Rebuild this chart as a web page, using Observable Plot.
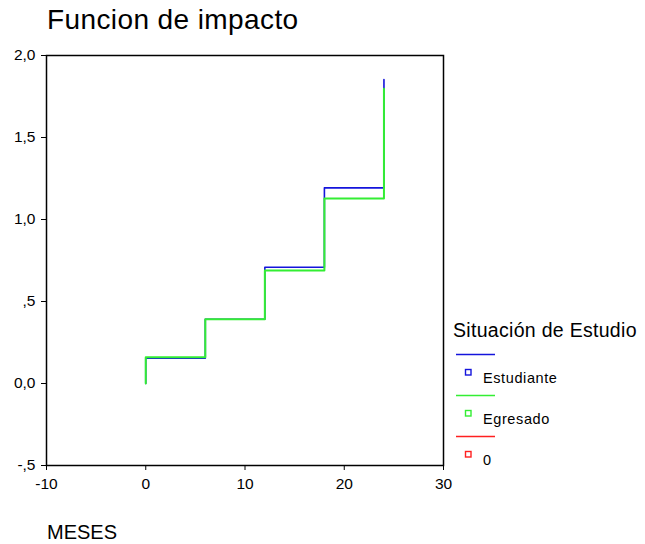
<!DOCTYPE html>
<html><head><meta charset="utf-8">
<script src="https://cdn.jsdelivr.net/npm/d3@7"></script>
<script src="https://cdn.jsdelivr.net/npm/@observablehq/plot@0.6"></script>
<style>
body{margin:0;background:#fff;font-family:"Liberation Sans",Arial,sans-serif;}
#wrap{position:relative;width:645px;height:544px;overflow:hidden;}
#title{position:absolute;left:47px;top:6px;font-size:28px;line-height:1;letter-spacing:0.4px;color:#000;white-space:nowrap;}
#xlabel{position:absolute;left:47px;top:522px;font-size:20px;line-height:1;color:#000;}
#chart{position:absolute;left:0;top:0;}
#legend{position:absolute;left:0;top:0;}
</style></head>
<body><div id="wrap"><div id="chart"></div><div id="title"></div><div id="xlabel"></div><svg id="legend" width="645" height="544"></svg></div>
<script>
const titleText = "Funcion de impacto";
const xLabel = "MESES";
const legendTitle = "Situación de Estudio";
const seriesNames = ["Estudiante", "Egresado", "0"];
const seriesColors = ["#1414dc", "#33ee33", "#ff2020"];
const meses = [0, 0, 6, 12, 18, 24];
const estudiante = [0, 0.154, 0.392, 0.709, 1.193, 1.854];
const egresado = [0, 0.160, 0.392, 0.689, 1.128, 1.797];
const yTicks = [-0.5, 0, 0.5, 1.0, 1.5, 2.0];
const yTickLabels = ["-,5", "0,0", ",5", "1,0", "1,5", "2,0"];
const xTicks = [-10, 0, 10, 20, 30];
const xTickLabels = ["-10", "0", "10", "20", "30"];

const data = [
  ...meses.map((m, i) => ({x: m, y: estudiante[i], s: seriesNames[0]})),
  ...meses.map((m, i) => ({x: m, y: egresado[i], s: seriesNames[1]}))
];

const plot = Plot.plot({
  width: 645, height: 544,
  marginLeft: 46, marginRight: 202, marginTop: 55, marginBottom: 79,
  style: {fontFamily: '"Liberation Sans", Arial, sans-serif', fontSize: "15.5px", color: "#000", background: "transparent"},
  x: {domain: [-10, 30], ticks: xTicks, label: null, tickSize: 5, tickPadding: 7,
      tickFormat: d => xTickLabels[xTicks.indexOf(d)]},
  y: {domain: [-0.5, 2.0], ticks: yTicks, label: null, tickSize: 5, tickPadding: 6,
      tickFormat: d => yTickLabels[yTicks.indexOf(d)]},
  marks: [
    Plot.line(data.filter(d => d.s === seriesNames[0]), {x: "x", y: "y", curve: "step-after", stroke: seriesColors[0], strokeWidth: 1.6}),
    Plot.line(data.filter(d => d.s === seriesNames[1]), {x: "x", y: "y", curve: "step-after", stroke: seriesColors[1], strokeWidth: 2}),
    Plot.frame({stroke: "#000", strokeWidth: 1.5})
  ]
});
document.getElementById("chart").appendChild(plot);
document.getElementById("title").textContent = titleText;
document.getElementById("xlabel").textContent = xLabel;

const lg = d3.select("#legend").style("font-family", '"Liberation Sans", Arial, sans-serif');
lg.append("text").attr("x", 453).attr("y", 337).attr("font-size", 19.5).attr("letter-spacing", 0.3).text(legendTitle);
seriesNames.forEach((n, i) => {
  const dy = 41 * i;
  lg.append("line").attr("x1", 456).attr("x2", 495).attr("y1", 354.5 + dy).attr("y2", 354.5 + dy)
    .attr("stroke", seriesColors[i]).attr("stroke-width", 1.5);
  lg.append("rect").attr("x", 465.5).attr("y", 369.5 + dy).attr("width", 5.5).attr("height", 5.5)
    .attr("fill", "none").attr("stroke", seriesColors[i]).attr("stroke-width", 1.4);
  lg.append("text").attr("x", 483).attr("y", 382.5 + dy).attr("font-size", 14.5).attr("letter-spacing", 0.6).text(n);
});
</script></body></html>
